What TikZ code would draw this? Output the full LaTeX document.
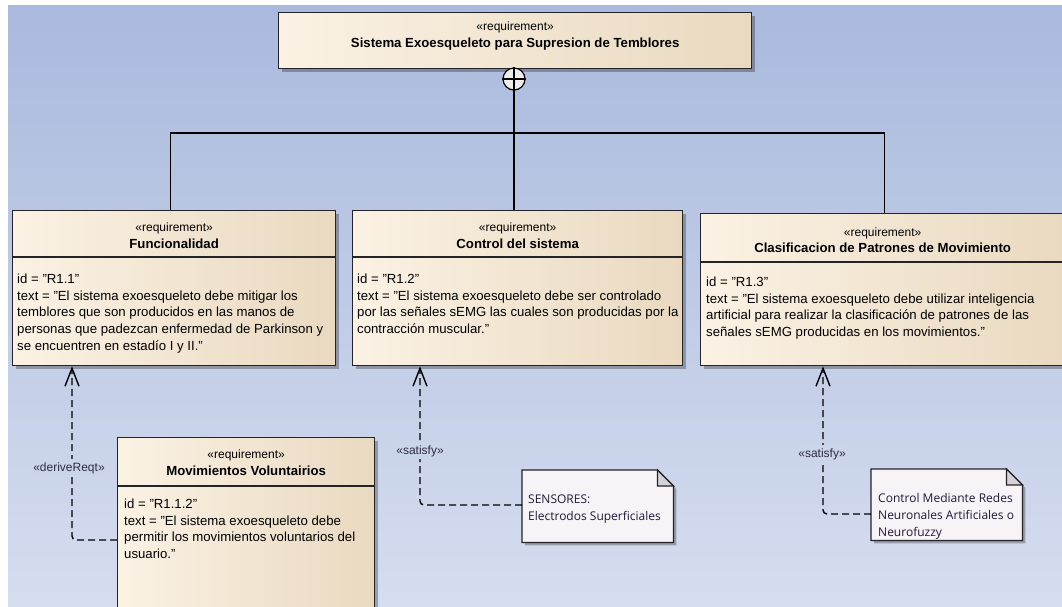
\documentclass[tikz,border=0pt]{standalone}
\usepackage{fontspec}
\setmainfont{Liberation Sans}
\newfontfamily\notefont{Open Sans}
\usetikzlibrary{arrows.meta,shadows,calc}

\definecolor{bgtop}{RGB}{170,185,221}
\definecolor{bgbot}{RGB}{213,221,239}
\definecolor{bgmid}{RGB}{202,212,234}
\definecolor{creamL}{RGB}{251,242,228}
\definecolor{creamR}{RGB}{233,217,192}
\definecolor{frame}{RGB}{35,35,40}
\definecolor{notefill}{RGB}{248,243,247}
\definecolor{foldfill}{RGB}{212,210,216}
\definecolor{notetxt}{RGB}{35,25,55}
\definecolor{labelc}{RGB}{45,45,70}
\definecolor{plusfill}{RGB}{240,238,236}

\begin{document}
\begin{tikzpicture}[x=1pt,y=-1pt,
  reqbox/.style={draw=frame, line width=1.3pt, left color=creamL, right color=creamR,
    inner sep=0pt, anchor=north west,
    drop shadow={shadow xshift=3pt, shadow yshift=-3pt, fill=black, opacity=0.28}},
  stereo/.style={anchor=base, inner sep=0pt, font=\fontsize{12}{14}\selectfont},
  rtitle/.style={anchor=base, inner sep=0pt, font=\fontsize{13.2}{16}\selectfont\bfseries},
  body/.style={anchor=north west, inner sep=0pt, align=left, font=\fontsize{13.2}{16.8}\selectfont},
  divider/.style={draw=frame, line width=1.3pt},
  notebox/.style={inner sep=0pt, anchor=north west},
  notepath/.style={draw=frame, line width=1.2pt, fill=notefill,
    drop shadow={shadow xshift=3pt, shadow yshift=-3pt, fill=black, opacity=0.28}},
  notetext/.style={anchor=north west, inner sep=0pt, align=left, text=notetxt,
    font=\notefont\fontsize{12}{17}\selectfont},
  link/.style={draw=black, line width=1.3pt},
  dep/.style={draw=black, line width=1.4pt, dash pattern=on 7pt off 4pt, rounded corners=4pt,
    -{Straight Barb[length=18pt,width=14pt]}},
  deplabel/.style={anchor=base, inner xsep=1pt, inner ysep=3pt, fill=bgmid, text=labelc,
    font=\fontsize{12}{14}\selectfont},
]
\clip (0,0) rectangle (1062,607);

% canvas
\fill[top color=bgtop, bottom color=bgbot] (8,6) rectangle (1062,607);

% requirement boxes
\node[reqbox, minimum width=473pt, minimum height=56pt] (top) at (278,12) {};
\node[reqbox, minimum width=323pt, minimum height=155pt] (fun) at (12,210) {};
\node[reqbox, minimum width=330pt, minimum height=155pt] (ctl) at (352,210) {};
\node[reqbox, minimum width=364pt, minimum height=152pt] (cls) at (700,213) {};
\node[reqbox, minimum width=257pt, minimum height=190pt] (mov) at (117,437) {};

% containment
\node[circle, draw=black, line width=1.2pt, minimum size=22pt, inner sep=0pt, fill=plusfill] (plus) at (514,79) {};
\draw[link] (plus.north) -- (plus.south) (plus.west) -- (plus.east);
\coordinate (bus) at (514,133);
\draw[link] (plus.south) -- (plus.south |- ctl.north);
\draw[link] ($(fun.north)+(-3.5,0)$) |- (bus) -| ($(cls.north)+(2,0)$);

% compartments
\draw[divider] ($(fun.north west)+(0,47)$) -- ($(fun.north east)+(0,47)$);
\draw[divider] ($(ctl.north west)+(0,47)$) -- ($(ctl.north east)+(0,47)$);
\draw[divider] ($(cls.north west)+(0,49)$) -- ($(cls.north east)+(0,49)$);
\draw[divider] ($(mov.north west)+(0,49)$) -- ($(mov.north east)+(0,49)$);

% top requirement
\node[stereo] (top-st) at ($(top.north)+(0,19)$) {«requirement»};
\node[rtitle] (top-tt) at ($(top.north)+(0,36)$) {Sistema Exoesqueleto para Supresion de Temblores};

% R1.1
\node[stereo] (fun-st) at ($(fun.north)+(0,21)$) {«requirement»};
\node[rtitle] (fun-tt) at ($(fun.north)+(0,38)$) {Funcionalidad};
\node[body] (fun-bd) at ($(fun.north west)+(5,63.5)$) {id = "R1.1"\\
text = "El sistema exoesqueleto debe mitigar los\\
temblores que son producidos en las manos de\\
personas que padezcan enfermedad de Parkinson y\\
se encuentren en estadío I y II."};

% R1.2
\node[stereo] (ctl-st) at ($(ctl.north)+(0,21)$) {«requirement»};
\node[rtitle] (ctl-tt) at ($(ctl.north)+(0,38)$) {Control del sistema};
\node[body] (ctl-bd) at ($(ctl.north west)+(5,63.5)$) {id = "R1.2"\\
text = "El sistema exoesqueleto debe ser controlado\\
por las señales sEMG las cuales son producidas por la\\
contracción muscular."};

% R1.3
\node[stereo] (cls-st) at ($(cls.north)+(0,23)$) {«requirement»};
\node[rtitle] (cls-tt) at ($(cls.north)+(0,39)$) {Clasificacion de Patrones de Movimiento};
\node[body] (cls-bd) at ($(cls.north west)+(6,63.5)$) {id = "R1.3"\\
text = "El sistema exoesqueleto debe utilizar inteligencia\\
artificial para realizar la clasificación de patrones de las\\
señales sEMG producidas en los movimientos."};

% R1.1.2
\node[stereo] (mov-st) at ($(mov.north)+(0,21)$) {«requirement»};
\node[rtitle] (mov-tt) at ($(mov.north)+(0,38)$) {Movimientos Voluntairios};
\node[body] (mov-bd) at ($(mov.north west)+(7,61.5)$) {id = "R1.1.2"\\
text = "El sistema exoesqueleto debe\\
permitir los movimientos voluntarios del\\
usuario."};

% notes
\node[notebox, minimum width=151pt, minimum height=72pt] (n1) at (522,470) {};
\path[notepath] (n1.north west) -- ($(n1.north east)+(-16,0)$) -- ($(n1.north east)+(0,16)$)
  -- (n1.south east) -- (n1.south west) -- cycle;
\filldraw[fill=foldfill, draw=frame, line width=1.2pt] ($(n1.north east)+(-16,0)$) -- ($(n1.north east)+(-16,16)$)
  -- ($(n1.north east)+(0,16)$) -- cycle;
\node[notetext] (n1-tx) at ($(n1.north west)+(6,24.5)$) {SENSORES:\\Electrodos Superficiales};

\node[notebox, minimum width=151pt, minimum height=71pt] (n2) at (871,469) {};
\path[notepath] (n2.north west) -- ($(n2.north east)+(-16,0)$) -- ($(n2.north east)+(0,16)$)
  -- (n2.south east) -- (n2.south west) -- cycle;
\filldraw[fill=foldfill, draw=frame, line width=1.2pt] ($(n2.north east)+(-16,0)$) -- ($(n2.north east)+(-16,16)$)
  -- ($(n2.north east)+(0,16)$) -- cycle;
\node[notetext] (n2-tx) at ($(n2.north west)+(7,24)$) {Control Mediante Redes\\Neuronales Artificiales o\\Neurofuzzy};

% dependencies
\coordinate (d1) at (72,540);
\coordinate (d2) at (420,505);
\coordinate (d3) at (823,514);
\draw[dep] (d1 -| mov.west) -| (d1 |- fun.south);
\draw[dep] (d2 -| n1.west) -| (d2 |- ctl.south);
\draw[dep] (d3 -| n2.west) -| (d3 |- cls.south);
\node[deplabel] (l1) at (69,471) {«deriveReqt»};
\node[deplabel] (l2) at (420,454) {«satisfy»};
\node[deplabel] (l3) at (822,457) {«satisfy»};
\end{tikzpicture}
\end{document}
